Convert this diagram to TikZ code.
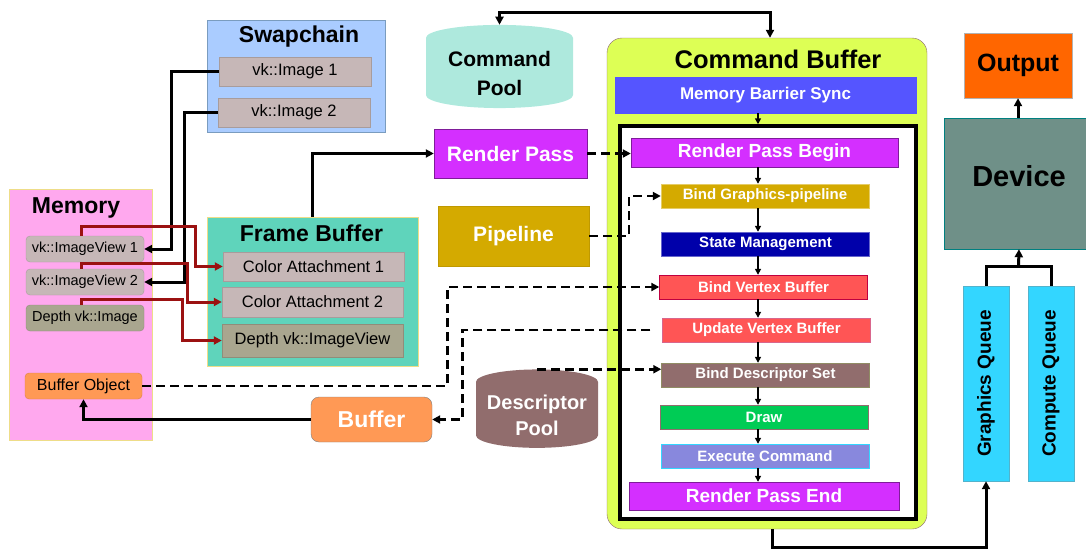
\documentclass[tikz,border=0pt]{standalone}
\usepackage{fontspec}
\setmainfont{Liberation Sans}
\usetikzlibrary{arrows.meta,calc,positioning,shapes.geometric}
\definecolor{swapfill}{HTML}{AACCFF}
\definecolor{swapline}{HTML}{7A9CBF}
\definecolor{imgfill}{HTML}{C6B7B7}
\definecolor{memfill}{HTML}{FFA8EE}
\definecolor{memline}{HTML}{EEDD88}
\definecolor{depthfill}{HTML}{A9A68F}
\definecolor{buffill}{HTML}{FF9955}
\definecolor{fbfill}{HTML}{5FD4BB}
\definecolor{poolfill}{HTML}{AEE9DD}
\definecolor{rpfill}{HTML}{D42FFF}
\definecolor{pipefill}{HTML}{D4AA00}
\definecolor{dpfill}{HTML}{916D6D}
\definecolor{cbfill}{HTML}{DDFF55}
\definecolor{mbsfill}{HTML}{5555FF}
\definecolor{smfill}{HTML}{0000AA}
\definecolor{vbfill}{HTML}{FF5555}
\definecolor{drawfill}{HTML}{00CC55}
\definecolor{execfill}{HTML}{8888DD}
\definecolor{outfill}{HTML}{FF6600}
\definecolor{devfill}{HTML}{6F9088}
\definecolor{qfill}{HTML}{33D6FF}
\definecolor{redline}{HTML}{9B1111}

\begin{document}
\begin{tikzpicture}[x=1pt,y=-1pt,>={Triangle[length=8pt,width=8pt]},
  box/.style={draw,inner sep=0pt,align=center},
  ttl/.style={font=\fontsize{23}{26}\selectfont\bfseries},
  item/.style={box,fill=imgfill,draw=imgfill!85!black,minimum width=181pt,font=\fontsize{16.5}{19}\selectfont},
  mitem/.style={box,rounded corners=4pt,fill=imgfill,draw=imgfill!85!black,minimum width=118pt,minimum height=26pt,font=\fontsize{14.5}{17}\selectfont},
  cmdstep/.style={box,minimum width=208pt,minimum height=24pt,text=white,font=\fontsize{15}{17}\selectfont\bfseries},
  big/.style={box,text=white,font=\fontsize{21}{24}\selectfont\bfseries},
  pool/.style={cylinder,shape border rotate=90,aspect=0.25,inner sep=0pt,align=center},
  thk/.style={line width=3pt},
  dsh/.style={line width=2.5pt,dash pattern=on 9pt off 5pt},
  rln/.style={line width=3pt,draw=redline},
  sml/.style={line width=2pt,-{Triangle[length=6pt,width=6pt]}},
]
\useasboundingbox (0,0) rectangle (1086,549);

\node[box,fill=swapfill,draw=swapline,minimum width=178pt,minimum height=112pt] (swap) at (296,76) {};
\node[ttl] (swaptitle) at (299,37) {Swapchain};
\node[item,minimum width=152pt,minimum height=29pt] (img1) at (295,71.5) {vk::Image 1};
\node[item,minimum width=152pt,minimum height=29pt] (img2) at (294,112.5) {vk::Image 2};

\node[box,fill=memfill,draw=memline,minimum width=143pt,minimum height=251pt] (mem) at (80.5,314.5) {};
\node[ttl] (memtitle) at (76,208) {Memory};
\node[mitem] (iv1) at (85,249) {vk::ImageView 1};
\node[mitem] (iv2) at (85,282) {vk::ImageView 2};
\node[mitem,fill=depthfill,draw=depthfill!85!black] (dimg) at (85,318) {Depth vk::Image};
\node[mitem,fill=buffill,draw=buffill!85!black,minimum width=117pt,font=\fontsize{16}{18}\selectfont] (bobj) at (83.5,386) {Buffer Object};

\node[box,fill=fbfill,draw=memline,minimum width=211pt,minimum height=149pt] (fb) at (312.5,291.5) {};
\node[ttl] (fbtitle) at (311.5,233) {Frame Buffer};
\node[item,minimum height=29pt] (ca1) at (313.5,266.5) {Color Attachment 1};
\node[item,minimum height=30pt] (ca2) at (312.5,302) {Color Attachment 2};
\node[item,fill=depthfill,draw=depthfill!85!black,minimum height=33pt] (dview) at (312.5,340.5) {Depth vk::ImageView};

\node[pool,fill=poolfill,minimum width=147pt,minimum height=76pt,font=\fontsize{21}{27}\selectfont\bfseries] (cpool) at (499.5,73) {\raisebox{2pt}{Command}\\Pool};
\node[big,fill=rpfill,draw=rpfill!60!black,minimum width=153pt,minimum height=49pt] (rpass) at (510.5,153.5) {Render Pass};
\node[big,fill=pipefill,draw=pipefill!90!black,minimum width=151pt,minimum height=60pt] (pipe) at (513.5,236) {Pipeline};
\node[big,fill=buffill,draw=gray,rounded corners=8pt,minimum width=121pt,minimum height=45pt,font=\fontsize{23}{26}\selectfont\bfseries] (buf) at (371.5,419.5) {Buffer};
\node[pool,fill=dpfill,text=white,minimum width=122pt,minimum height=78pt,font=\fontsize{20}{26}\selectfont\bfseries] (dpool) at (537,415) {Descriptor\\Pool};

\node[box,fill=cbfill,draw=gray!80!purple,rounded corners=15pt,minimum width=320pt,minimum height=491pt] (cmdbuf) at (767,283.5) {};
\node[font=\fontsize{25.5}{28}\selectfont\bfseries] (cmdtitle) at (778,59) {Command Buffer};
\node[box,fill=mbsfill,draw=mbsfill,minimum width=301pt,minimum height=36pt,text=white,font=\fontsize{17}{19}\selectfont\bfseries] (mbs) at (765.5,95) {Memory Barrier Sync};
\node[box,fill=white,line width=3.5pt,minimum width=296pt,minimum height=393pt] (inner) at (768,322.5) {};
\node[box,fill=rpfill,draw=rpfill!60!black,minimum width=267pt,minimum height=29pt,text=white,font=\fontsize{19}{21}\selectfont\bfseries] (rpb) at (764.5,152.5) {Render Pass Begin};
\node[cmdstep,fill=pipefill,draw=pipefill!60!white] (bgp) at (765,196) {Bind Graphics-pipeline};
\node[cmdstep,fill=smfill,draw=smfill!60!white] (sm) at (765.5,244) {State Management};
\node[cmdstep,fill=vbfill,draw=purple] (bvb) at (763.5,287) {Bind Vertex Buffer};
\node[cmdstep,fill=vbfill,draw=purple!60!white] (uvb) at (766.5,330) {Update Vertex Buffer};
\node[cmdstep,fill=dpfill,draw=gray!70!olive] (bds) at (765.5,375) {Bind Descriptor Set};
\node[cmdstep,fill=drawfill,draw=dpfill] (drw) at (764,417) {Draw};
\node[cmdstep,fill=execfill,draw=qfill] (exec) at (765,456) {Execute Command};
\node[box,fill=rpfill,draw=rpfill!60!black,minimum width=270pt,minimum height=28pt,text=white,font=\fontsize{19}{21}\selectfont\bfseries] (rpe) at (764,496) {Render Pass End};

\node[box,fill=outfill,draw=gray!60,minimum width=108pt,minimum height=65pt,font=\fontsize{25}{28}\selectfont\bfseries] (out) at (1018,65.5) {Output};
\node[box,fill=devfill,draw=teal,minimum width=150pt,minimum height=131pt,font=\fontsize{29}{32}\selectfont\bfseries] (dev) at (1019,183.5) {\raisebox{16pt}{Device}};
\node[box,fill=qfill,draw=qfill!60!gray,minimum width=46pt,minimum height=195pt,font=\fontsize{19}{21}\selectfont\bfseries] (gq) at (986,383.5) {\rotatebox{90}{Graphics Queue}};
\node[box,fill=qfill,draw=qfill!60!gray,minimum width=46pt,minimum height=195pt,font=\fontsize{19}{21}\selectfont\bfseries] (cq) at (1051,383.5) {\rotatebox{90}{Compute Queue}};

\coordinate (cptop) at (770,12);
\coordinate (ax) at (758,0);

\draw[thk,<->] (cpool.north) |- (cptop) -- (cptop |- cmdbuf.north);
\draw[thk,->] (img1.west) -- ++(-47,0) |- (iv1.east);
\draw[thk,->] (img2.west) -- ++(-33,0) |- (iv2.east);
\draw[rln,->] ([xshift=-4pt]iv1.north) -- ++(0,-9) -| ([xshift=-27pt]ca1.west) -- (ca1.west);
\draw[rln,->] ([xshift=-4pt]iv2.north) -- ++(0,-5) -| ([xshift=-34pt]ca2.west) -- (ca2.west);
\draw[rln,->] ([xshift=-4pt]dimg.north) -- ++(0,-5) -| ([xshift=-39pt]dview.west) -- (dview.west);
\draw[thk,->] (fb.north) |- (rpass.west);
\draw[dsh,->] (rpass.east) -- (rpass.east -| rpb.west);
\draw[dsh,->] (pipe.east) -- ++(40,0) |- (bgp.west);
\draw[dsh,->] (bobj.east) -| ([xshift=-212pt]bvb.west) -- (bvb.west);
\draw[dsh,->] ([xshift=-12pt]uvb.west) -- ++(-188,0) |- (buf.east);
\draw[dsh,->] (dpool.north) -- (dpool.north -| bds.west);
\draw[thk,->] (buf.west) -| (bobj.south);

\draw[sml] (mbs.south -| ax) -- (inner.north -| ax);
\draw[sml] (rpb.south -| ax) -- (bgp.north -| ax);
\draw[sml] (bgp.south -| ax) -- (sm.north -| ax);
\draw[sml] (sm.south -| ax) -- (bvb.north -| ax);
\draw[sml] (bvb.south -| ax) -- (uvb.north -| ax);
\draw[sml] (uvb.south -| ax) -- (bds.north -| ax);
\draw[sml] (bds.south -| ax) -- (drw.north -| ax);
\draw[sml] (drw.south -| ax) -- (exec.north -| ax);
\draw[sml] (exec.south -| ax) -- (rpe.north -| ax);

\draw[thk,->] ([xshift=5pt]cmdbuf.south) -- ++(0,18) -| (gq.south);
\draw[thk] (gq.north) -- ++(0,-19) -| (cq.north);
\draw[thk,->] ($(gq.north)!0.5!(cq.north)+(0,-19)$) -- (dev.south);
\draw[thk,->] (dev.north -| out.south) -- (out.south);
\end{tikzpicture}
\end{document}
